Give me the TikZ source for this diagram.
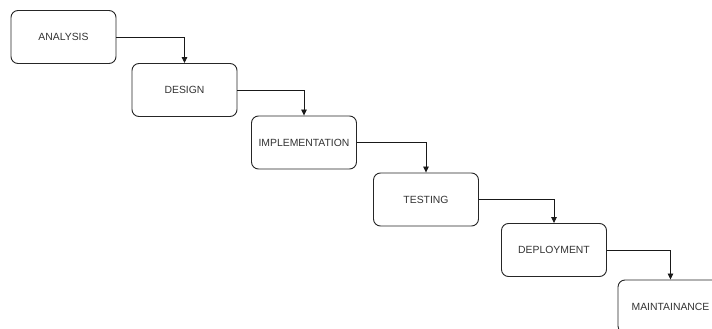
\documentclass[tikz,border=0pt]{standalone}
\usepackage{fontspec}
\setmainfont{Liberation Sans}
\usetikzlibrary{arrows.meta}
\begin{document}
\begin{tikzpicture}[x=1pt,y=-1pt,
  stage/.style={draw=black!85, line width=0.9pt, rounded corners=7pt, minimum width=105pt, minimum height=53pt, inner sep=0pt, text=black!80, font=\fontsize{10.4}{12}\selectfont, fill=white},
  flow/.style={draw=black!90, line width=0.8pt, -{Triangle[length=6pt,width=5.5pt]}}]
\useasboundingbox (0,0) rectangle (712,329);
\clip (0,0) rectangle (712,329);
\node[stage] (a) at (63.5,37) {ANALYSIS};
\node[stage] (b) at (184.5,90) {DESIGN};
\node[stage] (c) at (304,142.5) {IMPLEMENTATION};
\node[stage] (d) at (426,199.5) {TESTING};
\node[stage] (e) at (554,250) {DEPLOYMENT};
\node[stage] (f) at (670.5,306.5) {MAINTAINANCE};
\draw[flow] (a.east) -| (b.north);
\draw[flow] (b.east) -| (c.north);
\draw[flow] (c.east) -| (d.north);
\draw[flow] (d.east) -| (e.north);
\draw[flow] (e.east) -| (f.north);
\end{tikzpicture}
\end{document}
